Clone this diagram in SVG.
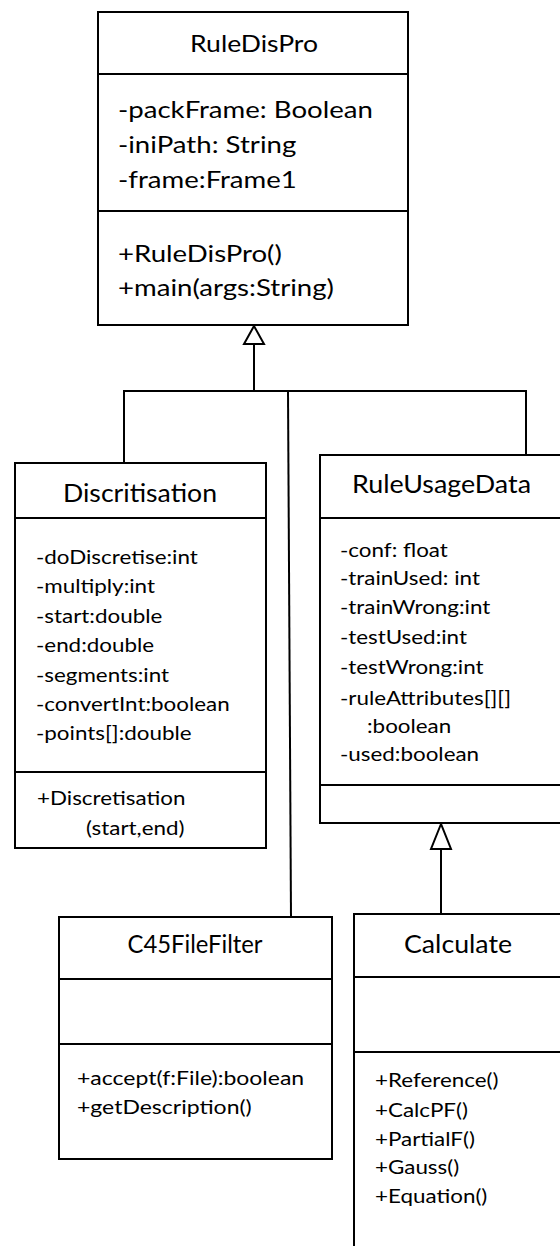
<svg xmlns="http://www.w3.org/2000/svg" width="560" height="1246" viewBox="0 0 560 1246">
  <style>
    .box { fill: #ffffff; stroke: #000000; stroke-width: 2; }
    .sep { stroke: #000000; stroke-width: 2; }
    .wire { fill: none; stroke: #000000; stroke-width: 2; }
    .head { fill: #ffffff; stroke: #000000; stroke-width: 2; stroke-linejoin: miter; }
    text { font-family: Lato, "Open Sans", sans-serif; fill: #000000; }
    .t24 { font-size: 24px; }
    .title { font-size: 25.5px; }
    .attr { font-size: 20px; }
    .mid { text-anchor: middle; }
    /* widen member lines slightly, keeping their left edge in place */
    .w12 { transform-box: fill-box; transform-origin: 0 0; transform: scaleX(1.12); }
    .w15 { transform-box: fill-box; transform-origin: 0 0; transform: scaleX(1.15); }
  </style>

  <!-- inheritance lines -->
  <g id="connectors">
    <polyline class="wire" points="254,344 254,391"/>
    <polyline class="wire" points="124,463 124,391 526,391 526,455"/>
    <line class="wire" x1="288" y1="391" x2="291" y2="917"/>
    <polygon class="head" points="254,326 244,344 264,344"/>
    <line class="wire" x1="441" y1="849" x2="441" y2="914"/>
    <polygon class="head" points="441,824 431,849 451,849"/>
  </g>

  <g id="RuleDisPro">
    <rect class="box" x="98" y="12" width="310" height="313"/>
    <line class="sep" x1="98" y1="74" x2="408" y2="74"/>
    <line class="sep" x1="98" y1="211" x2="408" y2="211"/>
    <text class="t24 mid" x="254" y="52" textLength="128" lengthAdjust="spacingAndGlyphs">RuleDisPro</text>
    <text class="t24 w15" x="118" y="118">-packFrame: Boolean</text>
    <text class="t24 w15" x="118" y="153">-iniPath: String</text>
    <text class="t24 w15" x="118" y="188">-frame:Frame1</text>
    <text class="t24 w15" x="118" y="262">+RuleDisPro()</text>
    <text class="t24 w15" x="118" y="296">+main(args:String)</text>
  </g>

  <g id="Discritisation">
    <rect class="box" x="15" y="463" width="251" height="385"/>
    <line class="sep" x1="15" y1="518" x2="266" y2="518"/>
    <line class="sep" x1="15" y1="772" x2="266" y2="772"/>
    <text class="title mid" x="140" y="502" textLength="154" lengthAdjust="spacingAndGlyphs">Discritisation</text>
    <text class="attr w12" x="36" y="564">-doDiscretise:int</text>
    <text class="attr w12" x="36" y="593">-multiply:int</text>
    <text class="attr w12" x="36" y="623">-start:double</text>
    <text class="attr w12" x="36" y="652">-end:double</text>
    <text class="attr w12" x="36" y="682">-segments:int</text>
    <text class="attr w12" x="36" y="711">-convertInt:boolean</text>
    <text class="attr w12" x="36" y="740">-points[]:double</text>
    <text class="attr w12" x="37" y="805">+Discretisation</text>
    <text class="attr w12" x="86" y="835">(start,end)</text>
  </g>

  <g id="RuleUsageData">
    <rect class="box" x="320" y="455" width="260" height="368"/>
    <line class="sep" x1="320" y1="518" x2="580" y2="518"/>
    <line class="sep" x1="320" y1="785" x2="580" y2="785"/>
    <text class="title" x="352" y="493" textLength="179" lengthAdjust="spacingAndGlyphs">RuleUsageData</text>
    <text class="attr w12" x="340" y="557">-conf: float</text>
    <text class="attr w12" x="340" y="585">-trainUsed: int</text>
    <text class="attr w12" x="340" y="614">-trainWrong:int</text>
    <text class="attr w12" x="340" y="644">-testUsed:int</text>
    <text class="attr w12" x="340" y="674">-testWrong:int</text>
    <text class="attr w12" x="340" y="705">-ruleAttributes[][]</text>
    <text class="attr w12" x="367" y="733">:boolean</text>
    <text class="attr w12" x="340" y="761">-used:boolean</text>
  </g>

  <g id="C45FileFilter">
    <rect class="box" x="59" y="917" width="273" height="242"/>
    <line class="sep" x1="59" y1="979" x2="332" y2="979"/>
    <line class="sep" x1="59" y1="1044" x2="332" y2="1044"/>
    <text class="title mid" x="195" y="953" textLength="135" lengthAdjust="spacingAndGlyphs">C45FileFilter</text>
    <text class="attr w15" x="77" y="1085">+accept(f:File):boolean</text>
    <text class="attr w15" x="77" y="1114">+getDescription()</text>
  </g>

  <g id="Calculate">
    <rect class="box" x="354" y="914" width="240" height="360"/>
    <line class="sep" x1="354" y1="977" x2="594" y2="977"/>
    <line class="sep" x1="354" y1="1052" x2="594" y2="1052"/>
    <text class="title" x="404" y="953" textLength="108" lengthAdjust="spacingAndGlyphs">Calculate</text>
    <text class="attr w12" x="375" y="1087">+Reference()</text>
    <text class="attr w12" x="375" y="1117">+CalcPF()</text>
    <text class="attr w12" x="375" y="1146">+PartialF()</text>
    <text class="attr w12" x="375" y="1174">+Gauss()</text>
    <text class="attr w12" x="375" y="1203">+Equation()</text>
  </g>
</svg>
